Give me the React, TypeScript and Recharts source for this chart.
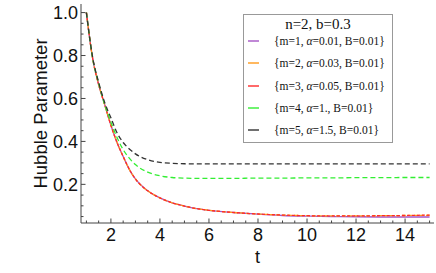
import { Legend, Line, LineChart, XAxis, YAxis } from "recharts";

const T = [1, 1.25, 1.5, 1.75, 2, 2.25, 2.5, 2.75, 3, 3.5, 4, 4.5, 5, 5.5, 6, 7, 8, 9, 10, 11, 12, 13, 14, 15];

const H_M1 = [1.0, 0.79, 0.665, 0.57, 0.475, 0.395, 0.33, 0.27, 0.225, 0.17, 0.137, 0.114, 0.099, 0.087, 0.079, 0.069, 0.061, 0.055, 0.052, 0.05, 0.049, 0.048, 0.048, 0.048];
const H_M2 = [1.0, 0.79, 0.665, 0.57, 0.475, 0.395, 0.33, 0.27, 0.225, 0.17, 0.137, 0.114, 0.099, 0.087, 0.079, 0.069, 0.062, 0.057, 0.054, 0.053, 0.053, 0.054, 0.055, 0.056];
const H_M3 = [1.0, 0.79, 0.665, 0.57, 0.475, 0.395, 0.33, 0.27, 0.225, 0.17, 0.137, 0.114, 0.099, 0.087, 0.079, 0.069, 0.062, 0.057, 0.054, 0.053, 0.053, 0.054, 0.055, 0.057];
const H_M4 = [1.0, 0.79, 0.67, 0.57, 0.49, 0.418, 0.362, 0.322, 0.292, 0.257, 0.24, 0.232, 0.229, 0.228, 0.228, 0.228, 0.229, 0.229, 0.23, 0.23, 0.231, 0.231, 0.232, 0.232];
const H_M5 = [1.0, 0.795, 0.675, 0.58, 0.51, 0.44, 0.395, 0.365, 0.342, 0.315, 0.302, 0.298, 0.296, 0.295, 0.295, 0.295, 0.295, 0.295, 0.295, 0.295, 0.295, 0.295, 0.295, 0.295];

const M_VALUES = ["1", "2", "3", "4", "5"];
const ALPHA_VALUES = ["0.01", "0.03", "0.05", "1.", "1.5"];
const B_VALUES = ["0.01", "0.01", "0.01", "0.01", "0.01"];
const LEGEND_TITLE = "n=2, b=0.3";

const X_MAJOR = [2, 4, 6, 8, 10, 12, 14];
const X_TICKS = [1, 1.5, 2, 2.5, 3, 3.5, 4, 4.5, 5, 5.5, 6, 6.5, 7, 7.5, 8, 8.5, 9, 9.5, 10, 10.5, 11, 11.5, 12, 12.5, 13, 13.5, 14, 14.5, 15];
const Y_MAJOR = [0.2, 0.4, 0.6, 0.8, 1.0];
const Y_TICKS = [0.05, 0.1, 0.15, 0.2, 0.25, 0.3, 0.35, 0.4, 0.45, 0.5, 0.55, 0.6, 0.65, 0.7, 0.75, 0.8, 0.85, 0.9, 0.95, 1.0];

const FRAME = "#444";
const SANS = "'Liberation Sans', Arial, sans-serif";
const SERIF = "'Liberation Serif', 'Times New Roman', serif";

const series = [
  { key: "m1", values: H_M1, color: "#a555c4", dash: undefined },
  { key: "m2", values: H_M2, color: "#ff9a1a", dash: "4 2" },
  { key: "m3", values: H_M3, color: "#ff2a2a", dash: "3 2" },
  { key: "m4", values: H_M4, color: "#33ee33", dash: "5 3" },
  { key: "m5", values: H_M5, color: "#333333", dash: "5 3" },
];

const rows = T.map((t, i) => {
  const row: Record<string, number> = { t };
  series.forEach((s) => (row[s.key] = s.values[i]));
  return row;
});

const isMajor = (list: number[], v: number) => list.some((m) => Math.abs(m - v) < 1e-9);

function BottomTick({ x, y, payload }: any) {
  const major = isMajor(X_MAJOR, payload.value);
  return (
    <g>
      <line x1={x} x2={x} y1={y} y2={y - (major ? 4.5 : 2.5)} stroke={FRAME} />
      {major && (
        <text x={x} y={y + 17.5} textAnchor="middle" fontFamily={SANS} fontSize={18} fill="#111">
          {payload.value}
        </text>
      )}
    </g>
  );
}

function TopTick({ x, y, payload }: any) {
  const major = isMajor(X_MAJOR, payload.value);
  return <line x1={x} x2={x} y1={y} y2={y + (major ? 4.5 : 2.5)} stroke={FRAME} />;
}

function LeftTick({ x, y, payload }: any) {
  const major = isMajor(Y_MAJOR, payload.value);
  return (
    <g>
      <line x1={x} x2={x + (major ? 4.5 : 2.5)} y1={y} y2={y} stroke={FRAME} />
      {major && (
        <text x={x - 3} y={y + 6.4} textAnchor="end" fontFamily={SANS} fontSize={18} fill="#111">
          {payload.value.toFixed(1)}
        </text>
      )}
    </g>
  );
}

function RightTick({ x, y, payload }: any) {
  const major = isMajor(Y_MAJOR, payload.value);
  return <line x1={x} x2={x - (major ? 4.5 : 2.5)} y1={y} y2={y} stroke={FRAME} />;
}

function YTitle({ viewBox }: any) {
  const cx = viewBox.x + 40;
  const cy = viewBox.y + viewBox.height / 2;
  return (
    <text x={cx} y={cy} transform={`rotate(-90 ${cx} ${cy})`} textAnchor="middle" dominantBaseline="central" fontFamily={SANS} fontSize={18.5} fill="#111">
      Hubble Parameter
    </text>
  );
}

function XTitle({ viewBox }: any) {
  return (
    <text x={viewBox.x + viewBox.width / 2} y={viewBox.y + 34} textAnchor="middle" dominantBaseline="central" fontFamily={SANS} fontSize={18} fill="#111">
      t
    </text>
  );
}

function LegendBox() {
  return (
    <div style={{ position: "relative", width: 150, height: 129, boxSizing: "border-box", border: "1px solid #999", background: "#fff", fontFamily: SERIF, color: "#111" }}>
      <div style={{ position: "absolute", left: 0, right: 0, top: 0, height: 18, lineHeight: "18px", textAlign: "center", fontSize: 15 }}>{LEGEND_TITLE}</div>
      {series.map((s, i) => (
        <div key={s.key} style={{ position: "absolute", left: 0, top: 26 + i * 22.3 - 9, height: 18, display: "flex", alignItems: "center" }}>
          <svg width={15} height={4} style={{ marginLeft: 4, display: "block" }}>
            <line x1={0} x2={11} y1={2} y2={2} stroke={s.color} strokeWidth={1.4} />
          </svg>
          <span style={{ marginLeft: 11, fontSize: 11.5, whiteSpace: "nowrap" }}>
            {`{m=${M_VALUES[i]}, `}
            <i>α</i>
            {`=${ALPHA_VALUES[i]}, B=${B_VALUES[i]}}`}
          </span>
        </div>
      ))}
    </div>
  );
}

export default function App() {
  return (
    <div style={{ width: 436, height: 273 }}>
      <style>{"body{margin:0;background:#fff}"}</style>
      <LineChart width={436} height={273} data={rows} margin={{ top: 4, right: 2, bottom: 0, left: 0 }}>
        <XAxis
          type="number"
          dataKey="t"
          domain={[0.78, 15.18]}
          allowDataOverflow
          ticks={X_TICKS}
          interval={0}
          tick={<BottomTick />}
          tickSize={0}
          tickMargin={0}
          height={50}
          axisLine={{ stroke: FRAME }}
          label={<XTitle />}
        />
        <XAxis
          xAxisId="top"
          orientation="top"
          type="number"
          dataKey="t"
          domain={[0.78, 15.18]}
          allowDataOverflow
          ticks={X_TICKS}
          interval={0}
          tick={<TopTick />}
          tickSize={0}
          tickMargin={0}
          height={0}
          axisLine={{ stroke: FRAME }}
        />
        <YAxis
          type="number"
          domain={[0.02, 1.04]}
          allowDataOverflow
          ticks={Y_TICKS}
          interval={0}
          tick={<LeftTick />}
          tickSize={0}
          tickMargin={0}
          width={81}
          axisLine={{ stroke: FRAME }}
          label={<YTitle />}
        />
        <YAxis
          yAxisId="right"
          orientation="right"
          type="number"
          domain={[0.02, 1.04]}
          allowDataOverflow
          ticks={Y_TICKS}
          interval={0}
          tick={<RightTick />}
          tickSize={0}
          tickMargin={0}
          width={0}
          axisLine={{ stroke: FRAME }}
        />
        <Legend
          layout="horizontal"
          verticalAlign="middle"
          align="center"
          wrapperStyle={{ top: 14, left: 243, width: 150, height: 129 }}
          content={() => <LegendBox />}
        />
        {series.map((s) => (
          <Line
            key={s.key}
            type="monotone"
            dataKey={s.key}
            stroke={s.color}
            strokeWidth={1.3}
            strokeDasharray={s.dash}
            dot={false}
            activeDot={false}
            isAnimationActive={false}
          />
        ))}
      </LineChart>
    </div>
  );
}
